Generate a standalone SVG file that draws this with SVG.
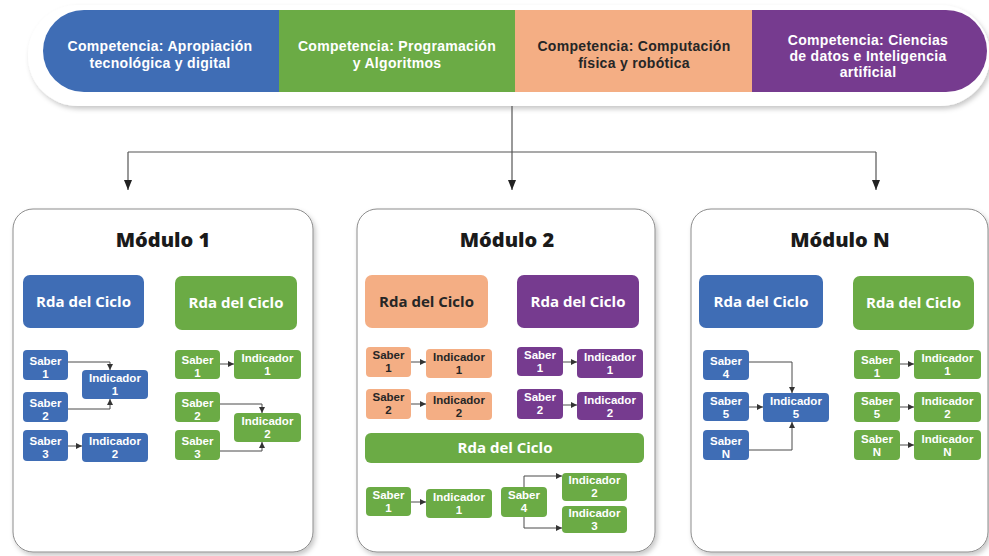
<svg xmlns="http://www.w3.org/2000/svg" width="989" height="556" viewBox="0 0 989 556">
<defs>
<style>
text{font-family:"Open Sans","Liberation Sans",sans-serif;font-weight:700;text-anchor:middle}
.comp{font-family:"Liberation Sans","Arial",sans-serif;font-size:14px;letter-spacing:0.3px}
.w{fill:#ffffff}
.d{fill:#262626}
.title{font-size:20px;font-weight:800;fill:#1a1a1a}
.rda{font-size:15px}
.sm{font-family:"Liberation Sans","Arial",sans-serif;font-size:11.5px}
.blue{fill:#3f6db5}
.green{fill:#6bab45}
.orange{fill:#f4ae84}
.purple{fill:#763b8f}
.mod{fill:#ffffff;stroke:#8c8c8c;stroke-width:1}
.con{fill:none;stroke:#4a4a4a;stroke-width:1}
.con2{fill:none;stroke:#555555;stroke-width:1.2}
</style>
<filter id="sh" x="-5%" y="-10%" width="110%" height="125%">
<feDropShadow dx="2" dy="3" stdDeviation="2.5" flood-color="#000000" flood-opacity="0.22"/>
</filter>
<marker id="a" viewBox="0 0 6 6" refX="6" refY="3" markerWidth="6" markerHeight="6" markerUnits="userSpaceOnUse" orient="auto">
<path d="M0,0 L6,3 L0,6 z" fill="#333333"/>
</marker>
<marker id="A" viewBox="0 0 10 8" refX="10" refY="4" markerWidth="10" markerHeight="8" markerUnits="userSpaceOnUse" orient="auto">
<path d="M0,0 L10,4 L0,8 z" fill="#222222"/>
</marker>
</defs>
<rect width="989" height="556" fill="#ffffff"/>

<g id="competencias">
<rect x="28" y="5" width="962" height="101" rx="50" fill="#ffffff" filter="url(#sh)"/>
<g id="comp-apropiacion">
<path class="blue" d="M84,10 H279 V92 H84 A41,41 0 0 1 84,10 Z"/>
<text class="comp w"><tspan x="160" y="51">Competencia: Apropiación</tspan><tspan x="160" y="68">tecnológica y digital</tspan></text>
</g>
<g id="comp-programacion">
<rect class="green" x="279" y="10" width="236" height="82"/>
<text class="comp w"><tspan x="397" y="51">Competencia: Programación</tspan><tspan x="397" y="68">y Algoritmos</tspan></text>
</g>
<g id="comp-computacion">
<rect class="orange" x="515" y="10" width="237" height="82"/>
<text class="comp d"><tspan x="634" y="51">Competencia: Computación</tspan><tspan x="634" y="68">física y robótica</tspan></text>
</g>
<g id="comp-datos">
<path class="purple" d="M752,10 H946 A41,41 0 0 1 946,92 H752 Z"/>
<text class="comp w"><tspan x="868" y="45">Competencia: Ciencias</tspan><tspan x="868" y="61">de datos e Inteligencia</tspan><tspan x="868" y="77">artificial</tspan></text>
</g>
</g>

<g id="modulo-1">
<rect class="mod" x="13" y="209" width="300" height="343" rx="20" filter="url(#sh)"/>
<text class="title" x="163" y="247">Módulo 1</text>
<g id="m1-rda-blue"><rect class="blue" x="23" y="275" width="121" height="53" rx="7"/><text class="rda w" x="83.5" y="307">Rda del Ciclo</text></g>
<g id="m1-rda-green"><rect class="green" x="175" y="276" width="122" height="54" rx="7"/><text class="rda w" x="236" y="308">Rda del Ciclo</text></g>
<g id="m1-b-s1"><rect class="blue" x="23" y="350" width="45" height="30" rx="4"/><text class="sm w"><tspan x="45.5" y="365">Saber</tspan><tspan x="45.5" y="378">1</tspan></text></g>
<g id="m1-b-i1"><rect class="blue" x="82" y="370" width="66" height="29" rx="4"/><text class="sm w"><tspan x="115" y="382">Indicador</tspan><tspan x="115" y="395">1</tspan></text></g>
<g id="m1-b-s2"><rect class="blue" x="23" y="392" width="45" height="30" rx="4"/><text class="sm w"><tspan x="45.5" y="407">Saber</tspan><tspan x="45.5" y="420">2</tspan></text></g>
<g id="m1-b-s3"><rect class="blue" x="23" y="430" width="45" height="31" rx="4"/><text class="sm w"><tspan x="45.5" y="445">Saber</tspan><tspan x="45.5" y="458">3</tspan></text></g>
<g id="m1-b-i2"><rect class="blue" x="82" y="433" width="66" height="29" rx="4"/><text class="sm w"><tspan x="115" y="445">Indicador</tspan><tspan x="115" y="458">2</tspan></text></g>
<g id="m1-g-s1"><rect class="green" x="175" y="350" width="45" height="29" rx="4"/><text class="sm w"><tspan x="197.5" y="364">Saber</tspan><tspan x="197.5" y="377">1</tspan></text></g>
<g id="m1-g-i1"><rect class="green" x="234" y="350" width="67" height="29" rx="4"/><text class="sm w"><tspan x="267.5" y="362">Indicador</tspan><tspan x="267.5" y="375">1</tspan></text></g>
<g id="m1-g-s2"><rect class="green" x="175" y="392" width="45" height="30" rx="4"/><text class="sm w"><tspan x="197.5" y="407">Saber</tspan><tspan x="197.5" y="420">2</tspan></text></g>
<g id="m1-g-i2"><rect class="green" x="234" y="413" width="67" height="29" rx="4"/><text class="sm w"><tspan x="267.5" y="425">Indicador</tspan><tspan x="267.5" y="438">2</tspan></text></g>
<g id="m1-g-s3"><rect class="green" x="175" y="430" width="45" height="30" rx="4"/><text class="sm w"><tspan x="197.5" y="445">Saber</tspan><tspan x="197.5" y="458">3</tspan></text></g>
</g>

<g id="modulo-2">
<rect class="mod" x="357" y="209" width="298" height="343" rx="20" filter="url(#sh)"/>
<text class="title" x="507" y="247">Módulo 2</text>
<g id="m2-rda-orange"><rect class="orange" x="365" y="275" width="123" height="53" rx="7"/><text class="rda d" x="426.5" y="307">Rda del Ciclo</text></g>
<g id="m2-rda-purple"><rect class="purple" x="517" y="275" width="122" height="53" rx="7"/><text class="rda w" x="578" y="307">Rda del Ciclo</text></g>
<g id="m2-o-s1"><rect class="orange" x="366" y="347" width="45" height="30" rx="4"/><text class="sm d"><tspan x="388.5" y="359">Saber</tspan><tspan x="388.5" y="372">1</tspan></text></g>
<g id="m2-o-i1"><rect class="orange" x="426" y="349" width="66" height="29" rx="4"/><text class="sm d"><tspan x="459" y="361">Indicador</tspan><tspan x="459" y="374">1</tspan></text></g>
<g id="m2-o-s2"><rect class="orange" x="366" y="389" width="45" height="30" rx="4"/><text class="sm d"><tspan x="388.5" y="401">Saber</tspan><tspan x="388.5" y="414">2</tspan></text></g>
<g id="m2-o-i2"><rect class="orange" x="426" y="392" width="66" height="28" rx="4"/><text class="sm d"><tspan x="459" y="404">Indicador</tspan><tspan x="459" y="417">2</tspan></text></g>
<g id="m2-p-s1"><rect class="purple" x="517" y="347" width="46" height="29" rx="4"/><text class="sm w"><tspan x="540" y="359">Saber</tspan><tspan x="540" y="372">1</tspan></text></g>
<g id="m2-p-i1"><rect class="purple" x="577" y="349" width="66" height="29" rx="4"/><text class="sm w"><tspan x="610" y="361">Indicador</tspan><tspan x="610" y="374">1</tspan></text></g>
<g id="m2-p-s2"><rect class="purple" x="517" y="389" width="46" height="30" rx="4"/><text class="sm w"><tspan x="540" y="401">Saber</tspan><tspan x="540" y="414">2</tspan></text></g>
<g id="m2-p-i2"><rect class="purple" x="577" y="392" width="66" height="28" rx="4"/><text class="sm w"><tspan x="610" y="404">Indicador</tspan><tspan x="610" y="417">2</tspan></text></g>
<g id="m2-rda-green"><rect class="green" x="365" y="433" width="279" height="30" rx="6"/><text class="rda w" x="505" y="453">Rda del Ciclo</text></g>
<g id="m2-g-s1"><rect class="green" x="366" y="487" width="45" height="29" rx="4"/><text class="sm w"><tspan x="388.5" y="499">Saber</tspan><tspan x="388.5" y="512">1</tspan></text></g>
<g id="m2-g-i1"><rect class="green" x="426" y="489" width="66" height="29" rx="4"/><text class="sm w"><tspan x="459" y="501">Indicador</tspan><tspan x="459" y="514">1</tspan></text></g>
<g id="m2-g-s4"><rect class="green" x="501" y="487" width="46" height="30" rx="4"/><text class="sm w"><tspan x="524" y="499">Saber</tspan><tspan x="524" y="512">4</tspan></text></g>
<g id="m2-g-i2"><rect class="green" x="562" y="473" width="65" height="28" rx="4"/><text class="sm w"><tspan x="594.5" y="484">Indicador</tspan><tspan x="594.5" y="497">2</tspan></text></g>
<g id="m2-g-i3"><rect class="green" x="562" y="506" width="65" height="27" rx="4"/><text class="sm w"><tspan x="594.5" y="517">Indicador</tspan><tspan x="594.5" y="530">3</tspan></text></g>
</g>

<g id="modulo-n">
<rect class="mod" x="691" y="209" width="297" height="343" rx="20" filter="url(#sh)"/>
<text class="title" x="840" y="247">Módulo N</text>
<g id="mn-rda-blue"><rect class="blue" x="699" y="275" width="124" height="53" rx="7"/><text class="rda w" x="761" y="307">Rda del Ciclo</text></g>
<g id="mn-rda-green"><rect class="green" x="853" y="276" width="121" height="54" rx="7"/><text class="rda w" x="913.5" y="308">Rda del Ciclo</text></g>
<g id="mn-b-s4"><rect class="blue" x="703" y="350" width="46" height="30" rx="4"/><text class="sm w"><tspan x="726" y="365">Saber</tspan><tspan x="726" y="378">4</tspan></text></g>
<g id="mn-b-s5"><rect class="blue" x="703" y="392" width="46" height="29" rx="4"/><text class="sm w"><tspan x="726" y="405">Saber</tspan><tspan x="726" y="418">5</tspan></text></g>
<g id="mn-b-sn"><rect class="blue" x="703" y="430" width="46" height="30" rx="4"/><text class="sm w"><tspan x="726" y="445">Saber</tspan><tspan x="726" y="458">N</tspan></text></g>
<g id="mn-b-i5"><rect class="blue" x="763" y="393" width="66" height="29" rx="4"/><text class="sm w"><tspan x="796" y="405">Indicador</tspan><tspan x="796" y="418">5</tspan></text></g>
<g id="mn-g-s1"><rect class="green" x="854" y="350" width="46" height="29" rx="4"/><text class="sm w"><tspan x="877" y="364">Saber</tspan><tspan x="877" y="377">1</tspan></text></g>
<g id="mn-g-i1"><rect class="green" x="914" y="350" width="67" height="29" rx="4"/><text class="sm w"><tspan x="947.5" y="362">Indicador</tspan><tspan x="947.5" y="375">1</tspan></text></g>
<g id="mn-g-s5"><rect class="green" x="854" y="392" width="46" height="30" rx="4"/><text class="sm w"><tspan x="877" y="405">Saber</tspan><tspan x="877" y="418">5</tspan></text></g>
<g id="mn-g-i2"><rect class="green" x="914" y="392" width="67" height="30" rx="4"/><text class="sm w"><tspan x="947.5" y="405">Indicador</tspan><tspan x="947.5" y="418">2</tspan></text></g>
<g id="mn-g-sn"><rect class="green" x="854" y="430" width="46" height="30" rx="4"/><text class="sm w"><tspan x="877" y="443">Saber</tspan><tspan x="877" y="456">N</tspan></text></g>
<g id="mn-g-in"><rect class="green" x="914" y="430" width="67" height="30" rx="4"/><text class="sm w"><tspan x="947.5" y="443">Indicador</tspan><tspan x="947.5" y="456">N</tspan></text></g>
</g>

<g id="connectors">
<path class="con2" d="M512,106 V190" marker-end="url(#A)"/>
<path class="con2" d="M128,152 H876"/>
<path class="con2" d="M128,152 V190" marker-end="url(#A)"/>
<path class="con2" d="M876,152 V190" marker-end="url(#A)"/>
<path class="con" d="M68,362 H110 V370" marker-end="url(#a)"/>
<path class="con" d="M68,409 H110 V399" marker-end="url(#a)"/>
<path class="con" d="M68,446 H82" marker-end="url(#a)"/>
<path class="con" d="M220,364 H234" marker-end="url(#a)"/>
<path class="con" d="M220,404 H262 V413" marker-end="url(#a)"/>
<path class="con" d="M220,451 H262 V442" marker-end="url(#a)"/>
<path class="con" d="M411,362 H426" marker-end="url(#a)"/>
<path class="con" d="M411,404 H426" marker-end="url(#a)"/>
<path class="con" d="M563,362 H577" marker-end="url(#a)"/>
<path class="con" d="M563,405 H577" marker-end="url(#a)"/>
<path class="con" d="M411,502 H426" marker-end="url(#a)"/>
<path class="con" d="M524,487 V476 H562" marker-end="url(#a)"/>
<path class="con" d="M524,517 V528 H562" marker-end="url(#a)"/>
<path class="con" d="M749,362 H792 V393" marker-end="url(#a)"/>
<path class="con" d="M749,407 H763" marker-end="url(#a)"/>
<path class="con" d="M749,450 H792 V422" marker-end="url(#a)"/>
<path class="con" d="M900,364 H914" marker-end="url(#a)"/>
<path class="con" d="M900,407 H914" marker-end="url(#a)"/>
<path class="con" d="M900,445 H914" marker-end="url(#a)"/>
</g>
</svg>
